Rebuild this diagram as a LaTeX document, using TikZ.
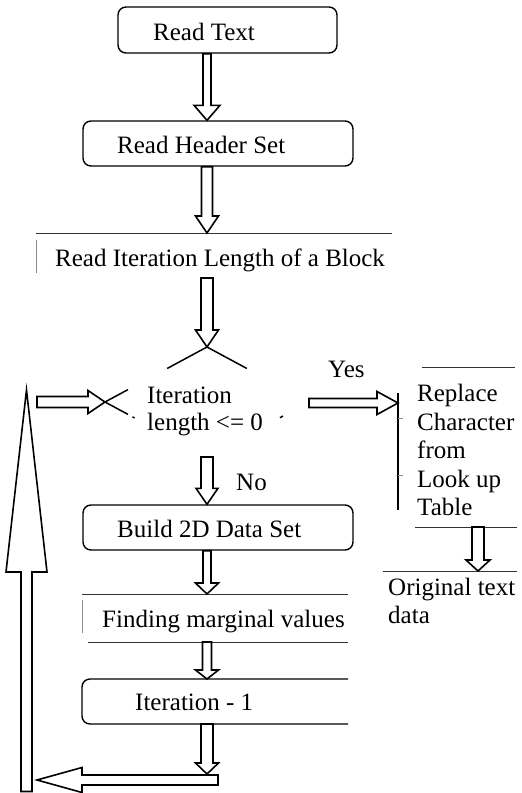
\documentclass[tikz,border=0pt]{standalone}
\usepackage{fontspec}
\setmainfont{Liberation Serif}
\usetikzlibrary{calc}
\tikzset{
  blk/.style={draw=black, line width=1.6pt, fill=white, line join=miter},
  boxshape/.style={draw=black, line width=1.4pt, rounded corners=8pt, minimum width=#1, inner sep=0pt},
  txt/.style={font=\fontsize{25}{28.5}\selectfont, inner sep=0pt, anchor=base west},
  thinline/.style={draw=black!80, line width=0.9pt},
  tick/.style={draw=black!45, line width=0.7pt},
  frag/.style={draw=black, line width=1.5pt}
}
% vertical block arrow: tail, tip, shaft half width, head half width, head length, sign (+1 down, -1 up)
\newcommand{\vblk}[6]{\draw[blk] let \p1=(#1), \p2=(#2) in
  (\x2-#3,\y1) -- (\x2-#3,{\y2+(#6)*#5}) -- (\x2-#4,{\y2+(#6)*#5}) -- (\x2,\y2)
  -- (\x2+#4,{\y2+(#6)*#5}) -- (\x2+#3,{\y2+(#6)*#5}) -- (\x2+#3,\y1) -- cycle;}
% horizontal block arrow: tail, tip, shaft half width, head half width, head length, sign (-1 right, +1 left)
\newcommand{\hblk}[6]{\draw[blk] let \p1=(#1), \p2=(#2) in
  (\x1,\y2-#3) -- ({\x2+(#6)*#5},\y2-#3) -- ({\x2+(#6)*#5},\y2-#4) -- (\x2,\y2)
  -- ({\x2+(#6)*#5},\y2+#4) -- ({\x2+(#6)*#5},\y2+#3) -- (\x1,\y2+#3) -- cycle;}
\begin{document}
\begin{tikzpicture}[x=1pt,y=-1pt]
\useasboundingbox (0,0) rectangle (522,793);

% column coordinate
\coordinate (col) at (207,0);

% boxes
\node[boxshape=219pt, minimum height=46pt] (box1) at (227.5,30) {};
\node[boxshape=270pt, minimum height=45pt] (box2) at (218,143.5) {};
\node[boxshape=270pt, minimum height=45pt] (box3) at (218,527.5) {};
\draw[line width=1.4pt, rounded corners=8pt] (348,679) -| (82,724) -- (348,724);
\coordinate (box4top) at (207,679);
\coordinate (box4bot) at (207,724);

% texts
\node[txt] (t1) at (153,40) {Read Text};
\node[txt] (t2) at (117,153) {Read Header Set};
\node[txt] (t3) at (55,266) {Read Iteration Length of a Block};
\node[txt] (t4) at (147,403) {Iteration};
\node[txt] (t4b) at (147,430) {length <= 0};
\node[txt] (yes) at (328,377) {Yes};
\node[txt] (r1) at (417,401) {Replace};
\node[txt] (r2) at (417,430) {Character};
\node[txt] (r3) at (417,458) {from};
\node[txt] (r4) at (417,487) {Look up};
\node[txt] (r5) at (417,515) {Table};
\node[txt] (o1) at (388,595) {Original text};
\node[txt] (o2) at (388,623) {data};
\node[txt] (no) at (236,490) {No};
\node[txt] (t5) at (117,537) {Build 2D Data Set};
\node[txt] (t6) at (102,627) {Finding marginal values};
\node[txt] (t7) at (135,710) {Iteration - 1};

% open text frames
\coordinate (l1a) at (36,233); \coordinate (l1b) at (392,233);
\draw[thinline] (l1a) -- (l1b);
\draw[tick] (36,240) -- (36,273);
\coordinate (l2a) at (82,594); \coordinate (l2b) at (348,594);
\draw[thinline] (l2a) -- (l2b);
\draw[tick] (82,600) -- (82,633);
\coordinate (l3a) at (88,642); \coordinate (l3b) at (348,642);
\draw[thinline] (l3a) -- (l3b);
% right side
\draw[thinline] (422,367) -- (515,367);
\coordinate (rl) at (398,403);
\draw[line width=1.1pt] (398,393) -- (398,510);
\draw[tick] (398,418) -- (403,418);
\draw[tick] (398,475) -- (403,475);
\coordinate (rb1) at (415,527); \coordinate (rb2) at (517,527);
\draw[thinline] (rb1) -- (rb2);
\coordinate (ob1) at (383,571); \coordinate (ob2) at (517,571);
\draw[thinline] (ob1) -- (ob2);
\coordinate (rcol) at (478,0);

% decision diamond (visible fragments)
\coordinate (dtop) at (207,347);
\coordinate (dleft) at (105,402);
\coordinate (dright) at (309,402);
\coordinate (dbot) at (207,457);
\draw[frag] (dtop) -- ($(dtop)!0.39!(dleft)$);
\draw[frag] (dtop) -- ($(dtop)!0.39!(dright)$);
\draw[frag] (dleft) -- ($(dleft)!0.225!(dtop)$);
\draw[frag] (dleft) -- ($(dleft)!0.225!(dbot)$);
\draw[frag] ($(dleft)!0.27!(dbot)$) -- ($(dleft)!0.29!(dbot)$);
\draw[frag] ($(dright)!0.255!(dbot)$) -- ($(dright)!0.285!(dbot)$);

% vertical block arrows
\vblk{box1.south -| col}{box2.north -| col}{4pt}{13pt}{15pt}{1}
\vblk{box2.south -| col}{l1a -| col}{5.5pt}{11.5pt}{17pt}{1}
\vblk{207,278}{dtop}{6pt}{11.5pt}{17pt}{1}
\vblk{dbot}{box3.north -| col}{6pt}{11pt}{16pt}{1}
\vblk{box3.south -| col}{l2a -| col}{4pt}{11.5pt}{11pt}{1}
\vblk{l3a -| col}{box4top}{4.5pt}{11.5pt}{9pt}{1}
\coordinate (bt) at (218,780);
\coordinate (btip) at (37,780);
\vblk{box4bot}{207,774}{6pt}{11.5pt}{11pt}{1}
\vblk{rb1 -| rcol}{ob1 -| rcol}{6pt}{12pt}{11pt}{1}

% horizontal block arrows
\coordinate (h1t) at (37,402);
\hblk{h1t}{dleft}{5.5pt}{11.5pt}{17pt}{-1}
\hblk{dright}{rl}{4.5pt}{11.5pt}{21pt}{-1}
\hblk{bt}{btip}{5pt}{12.5pt}{45pt}{1}

% tall upward arrow
\coordinate (ut) at (26.5,791.5);
\coordinate (utip) at (26.5,390);
\vblk{ut}{utip}{5.5pt}{20.5pt}{182pt}{-1}
\end{tikzpicture}
\end{document}
